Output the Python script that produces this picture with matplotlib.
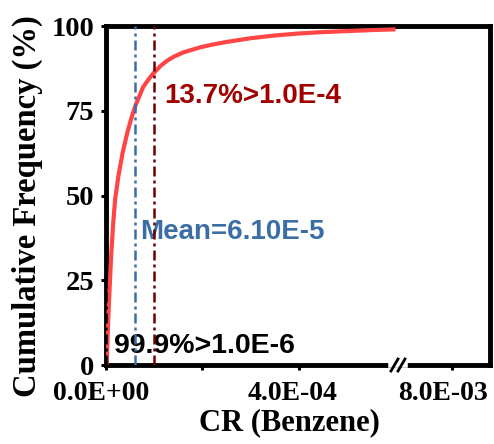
import numpy as np
import matplotlib
matplotlib.use("Agg")
import matplotlib.pyplot as plt
import matplotlib.transforms as mtransforms
from matplotlib.scale import FuncScale

# ---- data ----
cr_values = [1e-6, 2e-6, 3e-6, 4.5e-6, 6e-6, 8.3e-6, 1.1e-5, 1.5e-5, 1.9e-5, 2.6e-5,
             3.5e-5, 4.5e-5, 5.3e-5, 6.1e-5, 7.0e-5, 7.7e-5, 9.0e-5, 1.0e-4, 1.13e-4,
             1.26e-4, 1.4e-4, 1.6e-4, 1.95e-4, 2.2e-4, 2.5e-4, 3.0e-4, 3.5e-4,
             4.0e-4, 4.5e-4, 5.0e-4, 5.5e-4, 6.0e-4]
cum_freq = [0.1, 3, 7, 13, 18, 25, 33, 42, 49, 56,
            63, 69, 73, 76.5, 79.6, 82, 84.6, 86.3, 88.2,
            89.7, 90.9, 92.2, 93.7, 94.5, 95.3, 96.4, 97.2,
            97.8, 98.2, 98.5, 98.8, 99.0]
mean_cr = 6.10e-5
threshold_hi = 1.0e-4
threshold_lo = 1.0e-6
x_ticks = [0.0, 2.0e-4, 4.0e-4, 8.0e-3]
x_tick_labels = ["0.0E+00", "", "4.0E-04", "8.0E-03"]
y_ticks = [0, 25, 50, 75, 100]
label_hi = "13.7%>1.0E-4"
label_mean = "Mean=6.10E-5"
label_lo = "99.9%>1.0E-6"

# ---- broken x scale ----
BRK = 6.05e-4      # break position (left segment units)
RSTART = 7.0e-3    # value at start of right segment
RSCALE = 0.1119    # compression of right segment


def fwd(x):
    x = np.asarray(x, dtype=float)
    return np.where(x <= BRK, x, np.where(x >= RSTART, BRK + (x - RSTART) * RSCALE, BRK))


def inv(u):
    u = np.asarray(u, dtype=float)
    return np.where(u <= BRK, u, RSTART + (u - BRK) / RSCALE)


serif = "Liberation Serif"
sans = "Liberation Sans"

fig = plt.figure(figsize=(4.94, 4.44), dpi=100)
ax = fig.add_axes([106 / 494, 1 - 365 / 444, 384 / 494, 339 / 444])
ax.set_xscale(FuncScale(ax, (fwd, inv)))
ax.set_xlim(0, 8.706e-3)
ax.set_ylim(0, 100)

ax.plot(cr_values, cum_freq, color="#FF4545", lw=3, solid_capstyle="butt",
        solid_joinstyle="round", zorder=3)

dash = (0, (4, 1.6, 1.2, 1.6))
ax.axvline(mean_cr, color="#3A6EA5", lw=1.8, ls=dash, zorder=4)
ax.axvline(threshold_hi, color="#6E0000", lw=1.8, ls=dash, zorder=4)
ax.axvline(threshold_lo, color="black", lw=1.8, ls=dash, zorder=4)

ax.text(1.2e-4, 77.3, label_hi, color="#A00000", fontsize=20, fontfamily=sans,
        fontweight="bold", ha="left", va="baseline", zorder=2)
ax.text(7.0e-5, 37.2, label_mean, color="#3A6EA5", fontsize=20, fontfamily=sans,
        fontweight="bold", ha="left", va="baseline", zorder=2)
ax.text(1.6e-5, 3.5, label_lo, color="black", fontsize=20.5, fontfamily=sans,
        fontweight="bold", ha="left", va="baseline", zorder=2)

for s in ax.spines.values():
    s.set_linewidth(3.5)
    s.set_color("black")

ax.set_xticks(x_ticks)
ax.set_xticklabels(x_tick_labels)
ax.set_yticks(y_ticks)
ax.tick_params(axis="both", direction="out", length=3.6, width=2.2, labelsize=20)
ax.tick_params(axis="x", pad=8)
ax.tick_params(axis="y", pad=5, labelsize=20.5)
for lab in ax.get_xticklabels() + ax.get_yticklabels():
    lab.set_fontfamily(serif)
    lab.set_fontweight("bold")

# small leftward shifts of x tick labels (pixels)
for lab, dx in zip(ax.get_xticklabels(), [-5, 0, -6, -9]):
    lab.set_transform(lab.get_transform() +
                      mtransforms.ScaledTranslation(dx / 100, 0, fig.dpi_scale_trans))

ax.set_xlabel("CR (Benzene)", fontsize=22, fontfamily=serif, fontweight="bold")
ax.xaxis.set_label_coords((289 - 106) / 384, -0.128)
ax.set_ylabel("Cumulative Frequency (%)", fontsize=23.5, fontfamily=serif, fontweight="bold")
ax.yaxis.set_label_coords((43 - 106) / 384, 0.4676)

# break marks on bottom spine
bx = (398 - 106) / 384
hw = 7 / 384
ax.plot([bx - hw, bx + hw], [0, 0], transform=ax.transAxes, color="white", lw=4,
        clip_on=False, zorder=10)
for off in (-3.5 / 384, 3.5 / 384):
    ax.plot([bx + off - 3.5 / 384, bx + off + 3.5 / 384], [-6 / 339, 6 / 339],
            transform=ax.transAxes, color="black", lw=2, clip_on=False, zorder=11)

fig.savefig("out.png", dpi=100)
